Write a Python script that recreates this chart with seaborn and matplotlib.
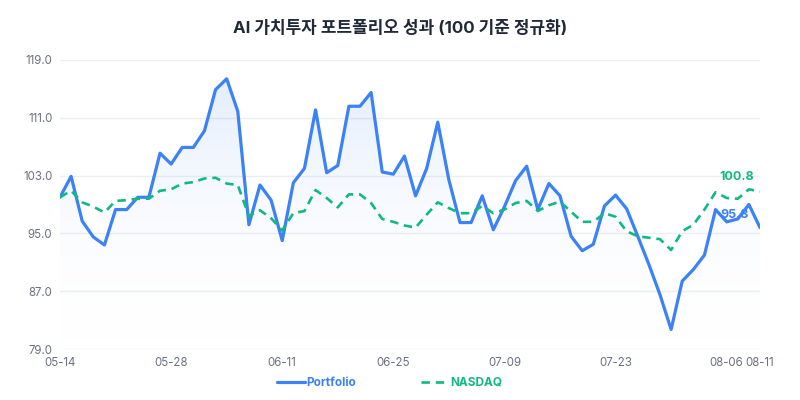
import numpy as np
import pandas as pd
import matplotlib
matplotlib.use("Agg")
import matplotlib.pyplot as plt
import seaborn as sns
from matplotlib.lines import Line2D

# ---- data ----
dates = pd.bdate_range("2025-05-14", "2025-08-11").strftime("%m-%d").tolist()
portfolio = [100.0, 102.9, 96.7, 94.5, 93.4, 98.3, 98.3, 100.0, 100.0, 106.1,
             104.6, 106.9, 106.9, 109.2, 114.9, 116.4, 111.9, 96.2, 101.7, 99.6,
             94.0, 102.0, 104.0, 112.1, 103.4, 104.4, 112.6, 112.6, 114.5, 103.5,
             103.2, 105.7, 100.2, 104.0, 110.4, 102.4, 96.5, 96.5, 100.2, 95.5,
             98.7, 102.3, 104.3, 98.3, 101.9, 100.2, 94.6, 92.6, 93.5, 98.8,
             100.3, 98.4, 94.6, 90.7, 86.5, 81.7, 88.4, 90.0, 92.0, 98.3,
             96.6, 97.0, 99.0, 95.8]
nasdaq = [100.0, 100.9, 99.3, 98.7, 97.9, 99.5, 99.6, 99.8, 99.8, 100.9,
          101.1, 101.9, 102.1, 102.6, 102.7, 101.9, 101.7, 97.4, 98.2, 97.1,
          95.4, 97.8, 98.1, 101.0, 99.9, 98.6, 100.4, 100.4, 99.2, 97.0,
          96.6, 96.1, 95.8, 97.6, 99.3, 98.5, 97.8, 97.8, 98.8, 97.8,
          98.3, 99.2, 99.5, 98.1, 98.9, 99.4, 98.0, 96.6, 96.6, 97.8,
          97.3, 95.3, 94.6, 94.4, 94.2, 92.7, 95.3, 96.2, 98.3, 100.7,
          99.9, 99.8, 101.1, 100.8]
y_ticks = [79.0, 87.0, 95.0, 103.0, 111.0, 119.0]
title = "AI 가치투자 포트폴리오 성과 (100 기준 정규화)"
series_names = ["Portfolio", "NASDAQ"]

BLUE = "#3b82f6"
GREEN = "#10b981"

sns.set_theme(style="white")
plt.rcParams["font.family"] = ["Inter", "Noto Sans CJK KR", "DejaVu Sans"]

df = pd.DataFrame({"idx": np.arange(len(dates)), "date": dates,
                   "Portfolio": portfolio, "NASDAQ": nasdaq})

fig = plt.figure(figsize=(8, 4), dpi=100)
ax = fig.add_axes([0.075, 0.1275, 0.875, 0.7225])

ymin, ymax = y_ticks[0], y_ticks[-1]

# gradient fill under portfolio
poly = ax.fill_between(df["idx"], df["Portfolio"], ymin, color="none", lw=0)
grad = np.linspace(0, 1, 256).reshape(-1, 1)
cmap = matplotlib.colors.LinearSegmentedColormap.from_list(
    "g", [(1, 1, 1, 0), (59/255, 130/255, 246/255, 0.16)])
im = ax.imshow(grad, aspect="auto", cmap=cmap, origin="lower",
               extent=[0, len(dates) - 1, ymin, ymax], zorder=1)
path = poly.get_paths()[0]
im.set_clip_path(path, transform=ax.transData)

sns.lineplot(data=df, x="idx", y="Portfolio", ax=ax, color=BLUE, lw=2.3,
             zorder=3, label=series_names[0], legend=False)
sns.lineplot(data=df, x="idx", y="NASDAQ", ax=ax, color=GREEN, lw=1.9,
             linestyle=(0, (3.2, 2.2)), zorder=3, label=series_names[1], legend=False)

ax.set_xlim(0, len(dates) - 1)
ax.set_ylim(ymin, ymax)
ax.set_yticks(y_ticks)
ax.set_yticklabels([f"{v:.1f}" for v in y_ticks])
tick_idx = list(range(0, len(dates), 10)) + [len(dates) - 1]
ax.set_xticks(tick_idx)
ax.set_xticklabels([dates[i] for i in tick_idx])
ax.tick_params(axis="both", colors="#6b7280", labelsize=8.3, length=0)
ax.tick_params(axis="y", pad=5.5)
ax.tick_params(axis="x", pad=6)
ax.set_xlabel("")
ax.set_ylabel("")
ax.grid(axis="y", color="#eceef2", lw=1)
ax.grid(axis="x", visible=False)
for s in ax.spines.values():
    s.set_visible(False)
ax.set_axisbelow(True)

# end labels
ax.annotate(f"{nasdaq[-1]:.1f}", (len(dates) - 1, nasdaq[-1]),
            xytext=(-23, 14), textcoords="offset pixels", ha="center", va="center",
            color=GREEN, fontsize=9, fontweight="bold", zorder=5)
ax.annotate(f"{portfolio[-1]:.1f}", (len(dates) - 1, portfolio[-1]),
            xytext=(-25, 13), textcoords="offset pixels", ha="center", va="center",
            color=BLUE, fontsize=9, fontweight="bold", zorder=5)

fig.text(0.5, 0.93, title, ha="center", va="center", fontsize=12.2,
         fontweight="bold", color="#1f2937")

handles = [Line2D([], [], color=BLUE, lw=2.3),
           Line2D([], [], color=GREEN, lw=1.9, linestyle=(0, (3.2, 2.2)))]
leg = fig.legend(handles, series_names, loc="center", bbox_to_anchor=(0.487, 0.043),
                 ncol=2, frameon=False, handlelength=2.4, handletextpad=0.1,
                 columnspacing=5.5, fontsize=8.5)
for t, c in zip(leg.get_texts(), [BLUE, GREEN]):
    t.set_color(c)
    t.set_fontweight("bold")

fig.savefig("out.png", dpi=100)
